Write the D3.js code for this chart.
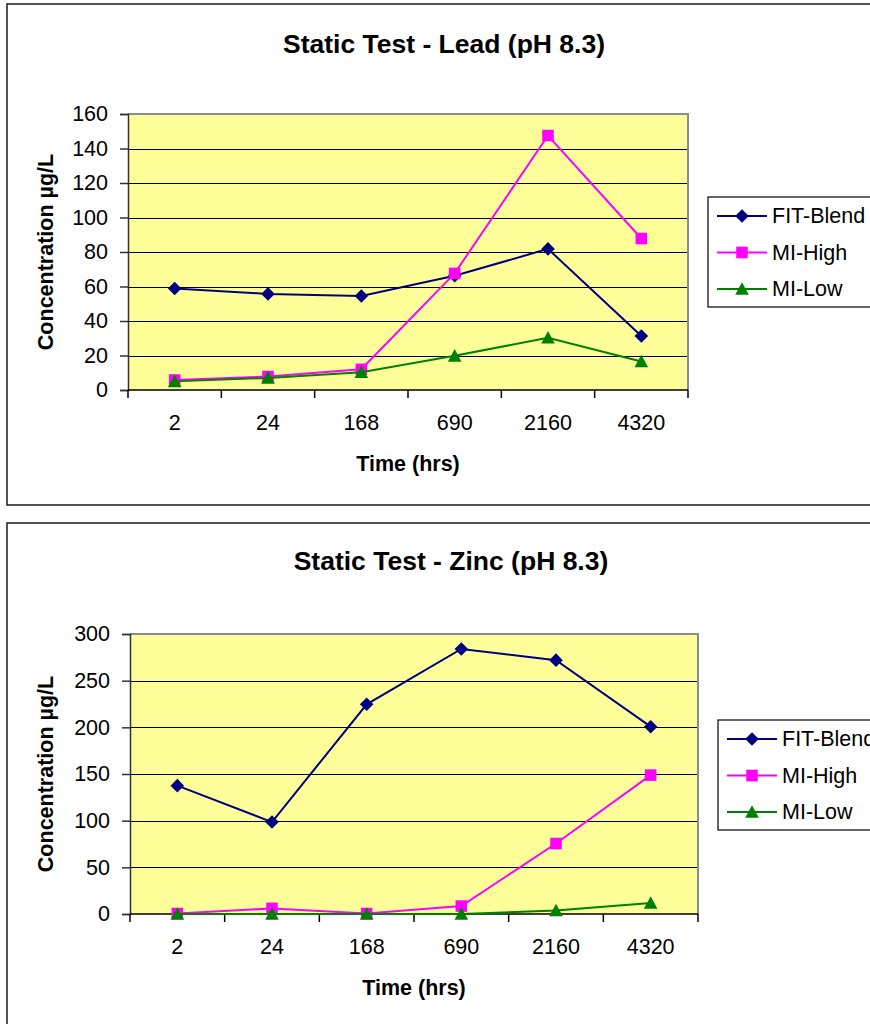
<html>
<head>
<script src="https://d3js.org/d3.v7.min.js"></script>
<style>
body { margin: 0; background: #fff; }
text { font-family: "Liberation Sans", Arial, sans-serif; fill: #000; }
.title { font-size: 26.5px; font-weight: bold; text-anchor: middle; }
.axis-title { font-size: 21.5px; font-weight: bold; text-anchor: middle; }
.tick-label { font-size: 21.5px; }
.legend-label { font-size: 21.5px; }
</style>
</head>
<body>
<div id="plot"></div>
<script>

// time points (hrs) shown as categories
var categories = ["2", "24", "168", "690", "2160", "4320"];
var seriesNames = ["FIT-Blend", "MI-High", "MI-Low"];

// Lead (pH 8.3), concentration ug/L
var leadFitBlend = [58.8, 55.7, 54.5, 66.2, 81.8, 31.3];
var leadMiHigh   = [5.8, 7.8, 12, 67.6, 147.5, 87.8];
var leadMiLow    = [5, 7, 10.3, 19.8, 30.3, 16.5];
var leadTicks    = [0, 20, 40, 60, 80, 100, 120, 140, 160];

// Zinc (pH 8.3), concentration ug/L
var zincFitBlend = [137.5, 98.5, 224.7, 284, 272, 200.7];
var zincMiHigh   = [0.5, 6, 0.5, 8.5, 75.5, 148.8];
var zincMiLow    = [0, 0, 0, 0, 3.8, 11.8];
var zincTicks    = [0, 50, 100, 150, 200, 250, 300];

var colors = ["#000080", "#ff00ff", "#008000"];

var width = 870;
var height = 1024;

var svg = d3.select("#plot").append("svg")
  .attr("width", width).attr("height", height);

// marker shapes, centred on 0,0
var markerPaths = [
  function (s) { return "M0," + (-s) + "L" + s + ",0L0," + s + "L" + (-s) + ",0Z"; },
  function (s) { var h = s * 0.85; return "M" + (-h) + "," + (-h) + "H" + h + "V" + h + "H" + (-h) + "Z"; },
  function (s) { return "M0," + (-s) + "L" + s + "," + (s * 0.85) + "L" + (-s) + "," + (s * 0.85) + "Z"; }
];

function drawChart(opt) {
  var g = svg.append("g");

  // outer chart frame (runs past the right edge like the original)
  g.append("rect")
    .attr("x", 7).attr("y", opt.frameTop)
    .attr("width", 920).attr("height", opt.frameHeight)
    .attr("fill", "#fff").attr("stroke", "#1a1a1a").attr("stroke-width", 1.5);

  g.append("text").attr("class", "title")
    .attr("x", opt.titleX).attr("y", opt.titleY)
    .attr("dominant-baseline", "central")
    .text(opt.title);

  var x = d3.scaleBand().domain(categories).range([opt.left, opt.right]);
  var y = d3.scaleLinear().domain([0, d3.max(opt.ticks)]).range([opt.bottom, opt.top]);

  // plot area
  g.append("rect")
    .attr("x", opt.left).attr("y", opt.top)
    .attr("width", opt.right - opt.left).attr("height", opt.bottom - opt.top)
    .attr("fill", "#ffff99");

  g.append("g").selectAll("line")
    .data(opt.ticks.slice(1, -1))
    .enter().append("line")
    .attr("x1", opt.left).attr("x2", opt.right)
    .attr("y1", function (d) { return Math.round(y(d)) + 0.5; })
    .attr("y2", function (d) { return Math.round(y(d)) + 0.5; })
    .attr("stroke", "#000").attr("stroke-width", 1);

  // grey border top and right
  g.append("path")
    .attr("d", "M" + opt.left + "," + opt.top + "H" + opt.right + "V" + opt.bottom)
    .attr("fill", "none").attr("stroke", "#8c8c8c").attr("stroke-width", 2);

  // y axis
  var yAxis = d3.axisLeft(y).tickValues(opt.ticks).tickSize(8).tickPadding(12)
    .tickFormat(d3.format("d"));
  var ya = g.append("g").attr("transform", "translate(" + opt.left + ",0)").call(yAxis);
  ya.select(".domain").attr("stroke", "#333").attr("stroke-width", 1.5);
  ya.selectAll(".tick line").attr("stroke", "#333").attr("stroke-width", 1.5);
  ya.selectAll(".tick text").attr("class", "tick-label").attr("font-size", null)
    .attr("font-family", null).attr("fill", "#000");

  // x axis: labels at category centres, ticks at category edges
  var xAxis = d3.axisBottom(x).tickSize(0).tickPadding(0);
  var xa = g.append("g").attr("transform", "translate(0," + opt.bottom + ")").call(xAxis);
  xa.select(".domain").remove();
  xa.selectAll(".tick text").attr("class", "tick-label").attr("font-size", null)
    .attr("font-family", null).attr("fill", "#000")
    .attr("y", 32).attr("dy", "0.35em");

  var edges = categories.map(function (c) { return x(c); }).concat([opt.right]);
  g.append("g").selectAll("line")
    .data(edges)
    .enter().append("line")
    .attr("x1", function (d) { return d; }).attr("x2", function (d) { return d; })
    .attr("y1", opt.bottom).attr("y2", opt.bottom + 8)
    .attr("stroke", "#000").attr("stroke-width", 1.5);

  g.append("line")
    .attr("x1", opt.left).attr("x2", opt.right)
    .attr("y1", opt.bottom).attr("y2", opt.bottom)
    .attr("stroke", "#000").attr("stroke-width", 1.5);

  // axis titles
  g.append("text").attr("class", "axis-title")
    .attr("x", (opt.left + opt.right) / 2).attr("y", opt.bottom + 74)
    .attr("dominant-baseline", "central")
    .text("Time (hrs)");

  g.append("text").attr("class", "axis-title")
    .attr("transform", "translate(46," + ((opt.top + opt.bottom) / 2) + ") rotate(-90)")
    .attr("dominant-baseline", "central")
    .text("Concentration µg/L");

  // series
  var line = d3.line()
    .x(function (d, i) { return x(categories[i]) + x.bandwidth() / 2; })
    .y(function (d) { return y(d); });

  opt.series.forEach(function (vals, si) {
    var sg = g.append("g");
    sg.append("path")
      .attr("d", line(vals))
      .attr("fill", "none").attr("stroke", colors[si]).attr("stroke-width", 2);
    sg.selectAll("path.m")
      .data(vals)
      .enter().append("path").attr("class", "m")
      .attr("transform", function (d, i) {
        return "translate(" + (x(categories[i]) + x.bandwidth() / 2) + "," + y(d) + ")";
      })
      .attr("d", markerPaths[si](6.8))
      .attr("fill", colors[si]);
  });

  // legend
  var lg = g.append("g");
  lg.append("rect")
    .attr("x", opt.legendX).attr("y", opt.legendY)
    .attr("width", 200).attr("height", 110)
    .attr("fill", "#fff").attr("stroke", "#000").attr("stroke-width", 1.2);

  seriesNames.forEach(function (name, si) {
    var ly = opt.legendY + 19 + si * 36.5;
    lg.append("line")
      .attr("x1", opt.legendX + 9).attr("x2", opt.legendX + 59)
      .attr("y1", ly).attr("y2", ly)
      .attr("stroke", colors[si]).attr("stroke-width", 2);
    lg.append("path")
      .attr("transform", "translate(" + (opt.legendX + 34) + "," + ly + ")")
      .attr("d", markerPaths[si](6.8))
      .attr("fill", colors[si]);
    lg.append("text").attr("class", "legend-label")
      .attr("x", opt.legendX + 64).attr("y", ly)
      .attr("dominant-baseline", "central")
      .text(name);
  });
}

drawChart({
  title: "Static Test - Lead (pH 8.3)",
  frameTop: 4, frameHeight: 501,
  titleX: 444, titleY: 44,
  left: 128, right: 688, top: 114, bottom: 390,
  ticks: leadTicks,
  series: [leadFitBlend, leadMiHigh, leadMiLow],
  legendX: 708, legendY: 197
});

drawChart({
  title: "Static Test - Zinc (pH 8.3)",
  frameTop: 523, frameHeight: 520,
  titleX: 451, titleY: 561,
  left: 130, right: 698, top: 634, bottom: 914,
  ticks: zincTicks,
  series: [zincFitBlend, zincMiHigh, zincMiLow],
  legendX: 718, legendY: 720
});

</script>
</body>
</html>
